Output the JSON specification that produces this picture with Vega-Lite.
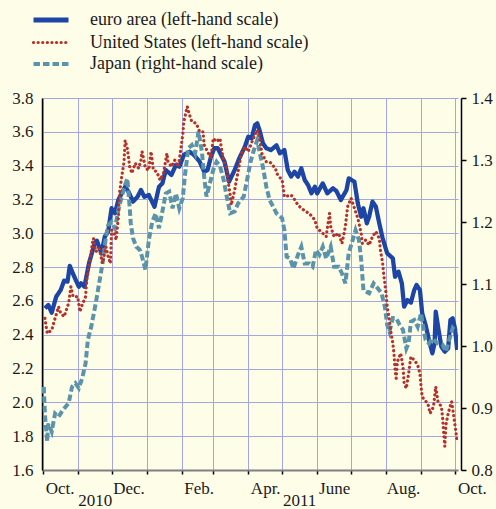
{
"$schema": "https://vega.github.io/schema/vega-lite/v6.json",
"width": 416, "height": 372,
"autosize": {"type": "none"},
"padding": {"left": 42, "top": 98, "right": 38, "bottom": 39},
"background": "#fefde8",
"datasets": {
"euro": [
{"d":"2010-10-03","v":2.556,"s":"euro area"},{"d":"2010-10-06","v":2.576,"s":"euro area"},{"d":"2010-10-09","v":2.53,"s":"euro area"},{"d":"2010-10-13","v":2.625,"s":"euro area"},{"d":"2010-10-17","v":2.665,"s":"euro area"},{"d":"2010-10-20","v":2.72,"s":"euro area"},{"d":"2010-10-23","v":2.714,"s":"euro area"},{"d":"2010-10-25","v":2.807,"s":"euro area"},{"d":"2010-10-29","v":2.743,"s":"euro area"},{"d":"2010-11-02","v":2.684,"s":"euro area"},{"d":"2010-11-04","v":2.704,"s":"euro area"},{"d":"2010-11-07","v":2.684,"s":"euro area"},{"d":"2010-11-11","v":2.822,"s":"euro area"},{"d":"2010-11-16","v":2.94,"s":"euro area"},{"d":"2010-11-18","v":2.956,"s":"euro area"},{"d":"2010-11-20","v":2.92,"s":"euro area"},{"d":"2010-11-22","v":2.88,"s":"euro area"},{"d":"2010-11-25","v":2.98,"s":"euro area"},{"d":"2010-11-28","v":3.01,"s":"euro area"},{"d":"2010-12-01","v":3.148,"s":"euro area"},{"d":"2010-12-04","v":3.118,"s":"euro area"},{"d":"2010-12-07","v":3.197,"s":"euro area"},{"d":"2010-12-10","v":3.236,"s":"euro area"},{"d":"2010-12-13","v":3.275,"s":"euro area"},{"d":"2010-12-16","v":3.246,"s":"euro area"},{"d":"2010-12-20","v":3.187,"s":"euro area"},{"d":"2010-12-24","v":3.216,"s":"euro area"},{"d":"2010-12-27","v":3.256,"s":"euro area"},{"d":"2010-12-30","v":3.216,"s":"euro area"},{"d":"2011-01-03","v":3.226,"s":"euro area"},{"d":"2011-01-08","v":3.157,"s":"euro area"},{"d":"2011-01-12","v":3.275,"s":"euro area"},{"d":"2011-01-15","v":3.295,"s":"euro area"},{"d":"2011-01-18","v":3.374,"s":"euro area"},{"d":"2011-01-23","v":3.345,"s":"euro area"},{"d":"2011-01-27","v":3.404,"s":"euro area"},{"d":"2011-01-30","v":3.394,"s":"euro area"},{"d":"2011-02-03","v":3.463,"s":"euro area"},{"d":"2011-02-08","v":3.482,"s":"euro area"},{"d":"2011-02-12","v":3.463,"s":"euro area"},{"d":"2011-02-17","v":3.423,"s":"euro area"},{"d":"2011-02-21","v":3.364,"s":"euro area"},{"d":"2011-02-24","v":3.374,"s":"euro area"},{"d":"2011-02-27","v":3.453,"s":"euro area"},{"d":"2011-03-02","v":3.503,"s":"euro area"},{"d":"2011-03-05","v":3.503,"s":"euro area"},{"d":"2011-03-08","v":3.463,"s":"euro area"},{"d":"2011-03-11","v":3.423,"s":"euro area"},{"d":"2011-03-14","v":3.335,"s":"euro area"},{"d":"2011-03-15","v":3.305,"s":"euro area"},{"d":"2011-03-20","v":3.374,"s":"euro area"},{"d":"2011-03-24","v":3.443,"s":"euro area"},{"d":"2011-03-29","v":3.512,"s":"euro area"},{"d":"2011-04-01","v":3.571,"s":"euro area"},{"d":"2011-04-04","v":3.561,"s":"euro area"},{"d":"2011-04-07","v":3.64,"s":"euro area"},{"d":"2011-04-09","v":3.65,"s":"euro area"},{"d":"2011-04-11","v":3.61,"s":"euro area"},{"d":"2011-04-14","v":3.532,"s":"euro area"},{"d":"2011-04-17","v":3.503,"s":"euro area"},{"d":"2011-04-21","v":3.492,"s":"euro area"},{"d":"2011-04-26","v":3.52,"s":"euro area"},{"d":"2011-04-29","v":3.473,"s":"euro area"},{"d":"2011-05-03","v":3.492,"s":"euro area"},{"d":"2011-05-06","v":3.374,"s":"euro area"},{"d":"2011-05-09","v":3.335,"s":"euro area"},{"d":"2011-05-12","v":3.364,"s":"euro area"},{"d":"2011-05-15","v":3.335,"s":"euro area"},{"d":"2011-05-18","v":3.384,"s":"euro area"},{"d":"2011-05-21","v":3.315,"s":"euro area"},{"d":"2011-05-24","v":3.285,"s":"euro area"},{"d":"2011-05-27","v":3.236,"s":"euro area"},{"d":"2011-05-30","v":3.275,"s":"euro area"},{"d":"2011-06-01","v":3.236,"s":"euro area"},{"d":"2011-06-06","v":3.295,"s":"euro area"},{"d":"2011-06-10","v":3.236,"s":"euro area"},{"d":"2011-06-15","v":3.266,"s":"euro area"},{"d":"2011-06-18","v":3.25,"s":"euro area"},{"d":"2011-06-22","v":3.197,"s":"euro area"},{"d":"2011-06-27","v":3.256,"s":"euro area"},{"d":"2011-06-29","v":3.325,"s":"euro area"},{"d":"2011-07-04","v":3.305,"s":"euro area"},{"d":"2011-07-07","v":3.177,"s":"euro area"},{"d":"2011-07-10","v":3.098,"s":"euro area"},{"d":"2011-07-12","v":3.148,"s":"euro area"},{"d":"2011-07-15","v":3.059,"s":"euro area"},{"d":"2011-07-17","v":3.098,"s":"euro area"},{"d":"2011-07-20","v":3.187,"s":"euro area"},{"d":"2011-07-23","v":3.157,"s":"euro area"},{"d":"2011-07-26","v":3.059,"s":"euro area"},{"d":"2011-07-29","v":2.97,"s":"euro area"},{"d":"2011-08-02","v":2.882,"s":"euro area"},{"d":"2011-08-07","v":2.852,"s":"euro area"},{"d":"2011-08-09","v":2.743,"s":"euro area"},{"d":"2011-08-12","v":2.773,"s":"euro area"},{"d":"2011-08-15","v":2.704,"s":"euro area"},{"d":"2011-08-17","v":2.566,"s":"euro area"},{"d":"2011-08-20","v":2.605,"s":"euro area"},{"d":"2011-08-23","v":2.59,"s":"euro area"},{"d":"2011-08-26","v":2.665,"s":"euro area"},{"d":"2011-08-28","v":2.694,"s":"euro area"},{"d":"2011-08-31","v":2.665,"s":"euro area"},{"d":"2011-09-02","v":2.527,"s":"euro area"},{"d":"2011-09-05","v":2.458,"s":"euro area"},{"d":"2011-09-08","v":2.369,"s":"euro area"},{"d":"2011-09-11","v":2.29,"s":"euro area"},{"d":"2011-09-13","v":2.35,"s":"euro area"},{"d":"2011-09-14","v":2.536,"s":"euro area"},{"d":"2011-09-17","v":2.408,"s":"euro area"},{"d":"2011-09-19","v":2.329,"s":"euro area"},{"d":"2011-09-22","v":2.3,"s":"euro area"},{"d":"2011-09-25","v":2.32,"s":"euro area"},{"d":"2011-09-27","v":2.487,"s":"euro area"},{"d":"2011-09-29","v":2.497,"s":"euro area"},{"d":"2011-10-01","v":2.438,"s":"euro area"},{"d":"2011-10-03","v":2.31,"s":"euro area"}
],
"us": [
{"d":"2010-10-03","v":2.497,"s":"United States"},{"d":"2010-10-05","v":2.408,"s":"United States"},{"d":"2010-10-09","v":2.428,"s":"United States"},{"d":"2010-10-12","v":2.497,"s":"United States"},{"d":"2010-10-15","v":2.566,"s":"United States"},{"d":"2010-10-17","v":2.527,"s":"United States"},{"d":"2010-10-20","v":2.507,"s":"United States"},{"d":"2010-10-24","v":2.586,"s":"United States"},{"d":"2010-10-26","v":2.684,"s":"United States"},{"d":"2010-10-28","v":2.625,"s":"United States"},{"d":"2010-11-01","v":2.625,"s":"United States"},{"d":"2010-11-03","v":2.536,"s":"United States"},{"d":"2010-11-05","v":2.576,"s":"United States"},{"d":"2010-11-08","v":2.625,"s":"United States"},{"d":"2010-11-09","v":2.724,"s":"United States"},{"d":"2010-11-12","v":2.842,"s":"United States"},{"d":"2010-11-14","v":2.94,"s":"United States"},{"d":"2010-11-15","v":2.97,"s":"United States"},{"d":"2010-11-17","v":2.891,"s":"United States"},{"d":"2010-11-20","v":2.911,"s":"United States"},{"d":"2010-11-23","v":2.822,"s":"United States"},{"d":"2010-11-26","v":2.92,"s":"United States"},{"d":"2010-11-28","v":2.861,"s":"United States"},{"d":"2010-11-30","v":2.822,"s":"United States"},{"d":"2010-12-01","v":3.02,"s":"United States"},{"d":"2010-12-04","v":2.99,"s":"United States"},{"d":"2010-12-05","v":2.96,"s":"United States"},{"d":"2010-12-07","v":3.089,"s":"United States"},{"d":"2010-12-08","v":3.236,"s":"United States"},{"d":"2010-12-10","v":3.335,"s":"United States"},{"d":"2010-12-12","v":3.42,"s":"United States"},{"d":"2010-12-13","v":3.55,"s":"United States"},{"d":"2010-12-15","v":3.5,"s":"United States"},{"d":"2010-12-16","v":3.45,"s":"United States"},{"d":"2010-12-17","v":3.394,"s":"United States"},{"d":"2010-12-19","v":3.355,"s":"United States"},{"d":"2010-12-22","v":3.414,"s":"United States"},{"d":"2010-12-25","v":3.384,"s":"United States"},{"d":"2010-12-27","v":3.433,"s":"United States"},{"d":"2010-12-28","v":3.483,"s":"United States"},{"d":"2010-12-31","v":3.384,"s":"United States"},{"d":"2011-01-03","v":3.374,"s":"United States"},{"d":"2011-01-04","v":3.433,"s":"United States"},{"d":"2011-01-05","v":3.483,"s":"United States"},{"d":"2011-01-07","v":3.374,"s":"United States"},{"d":"2011-01-10","v":3.364,"s":"United States"},{"d":"2011-01-13","v":3.315,"s":"United States"},{"d":"2011-01-16","v":3.355,"s":"United States"},{"d":"2011-01-19","v":3.473,"s":"United States"},{"d":"2011-01-20","v":3.423,"s":"United States"},{"d":"2011-01-23","v":3.394,"s":"United States"},{"d":"2011-01-26","v":3.433,"s":"United States"},{"d":"2011-01-29","v":3.394,"s":"United States"},{"d":"2011-01-30","v":3.433,"s":"United States"},{"d":"2011-02-01","v":3.532,"s":"United States"},{"d":"2011-02-02","v":3.581,"s":"United States"},{"d":"2011-02-03","v":3.66,"s":"United States"},{"d":"2011-02-06","v":3.749,"s":"United States"},{"d":"2011-02-08","v":3.7,"s":"United States"},{"d":"2011-02-10","v":3.66,"s":"United States"},{"d":"2011-02-14","v":3.65,"s":"United States"},{"d":"2011-02-17","v":3.6,"s":"United States"},{"d":"2011-02-20","v":3.6,"s":"United States"},{"d":"2011-02-21","v":3.522,"s":"United States"},{"d":"2011-02-24","v":3.483,"s":"United States"},{"d":"2011-02-27","v":3.443,"s":"United States"},{"d":"2011-03-01","v":3.561,"s":"United States"},{"d":"2011-03-04","v":3.542,"s":"United States"},{"d":"2011-03-07","v":3.561,"s":"United States"},{"d":"2011-03-08","v":3.512,"s":"United States"},{"d":"2011-03-10","v":3.433,"s":"United States"},{"d":"2011-03-13","v":3.384,"s":"United States"},{"d":"2011-03-14","v":3.315,"s":"United States"},{"d":"2011-03-16","v":3.226,"s":"United States"},{"d":"2011-03-17","v":3.167,"s":"United States"},{"d":"2011-03-20","v":3.256,"s":"United States"},{"d":"2011-03-23","v":3.364,"s":"United States"},{"d":"2011-03-26","v":3.473,"s":"United States"},{"d":"2011-03-29","v":3.512,"s":"United States"},{"d":"2011-04-01","v":3.483,"s":"United States"},{"d":"2011-04-05","v":3.552,"s":"United States"},{"d":"2011-04-09","v":3.61,"s":"United States"},{"d":"2011-04-11","v":3.571,"s":"United States"},{"d":"2011-04-13","v":3.473,"s":"United States"},{"d":"2011-04-17","v":3.423,"s":"United States"},{"d":"2011-04-20","v":3.423,"s":"United States"},{"d":"2011-04-25","v":3.384,"s":"United States"},{"d":"2011-04-27","v":3.345,"s":"United States"},{"d":"2011-05-01","v":3.315,"s":"United States"},{"d":"2011-05-02","v":3.266,"s":"United States"},{"d":"2011-05-03","v":3.216,"s":"United States"},{"d":"2011-05-09","v":3.226,"s":"United States"},{"d":"2011-05-12","v":3.2,"s":"United States"},{"d":"2011-05-15","v":3.167,"s":"United States"},{"d":"2011-05-18","v":3.148,"s":"United States"},{"d":"2011-05-22","v":3.128,"s":"United States"},{"d":"2011-05-25","v":3.118,"s":"United States"},{"d":"2011-05-30","v":3.078,"s":"United States"},{"d":"2011-06-01","v":3.03,"s":"United States"},{"d":"2011-06-06","v":3.0,"s":"United States"},{"d":"2011-06-09","v":2.98,"s":"United States"},{"d":"2011-06-12","v":3.118,"s":"United States"},{"d":"2011-06-13","v":3.04,"s":"United States"},{"d":"2011-06-16","v":2.98,"s":"United States"},{"d":"2011-06-20","v":3.0,"s":"United States"},{"d":"2011-06-23","v":2.94,"s":"United States"},{"d":"2011-06-26","v":3.04,"s":"United States"},{"d":"2011-06-28","v":3.157,"s":"United States"},{"d":"2011-07-01","v":3.207,"s":"United States"},{"d":"2011-07-04","v":3.148,"s":"United States"},{"d":"2011-07-07","v":3.089,"s":"United States"},{"d":"2011-07-10","v":3.0,"s":"United States"},{"d":"2011-07-11","v":2.94,"s":"United States"},{"d":"2011-07-14","v":2.96,"s":"United States"},{"d":"2011-07-17","v":2.93,"s":"United States"},{"d":"2011-07-20","v":2.98,"s":"United States"},{"d":"2011-07-23","v":3.01,"s":"United States"},{"d":"2011-07-26","v":2.97,"s":"United States"},{"d":"2011-07-27","v":2.9,"s":"United States"},{"d":"2011-07-29","v":2.822,"s":"United States"},{"d":"2011-07-30","v":2.753,"s":"United States"},{"d":"2011-08-01","v":2.645,"s":"United States"},{"d":"2011-08-02","v":2.566,"s":"United States"},{"d":"2011-08-04","v":2.487,"s":"United States"},{"d":"2011-08-05","v":2.428,"s":"United States"},{"d":"2011-08-07","v":2.35,"s":"United States"},{"d":"2011-08-08","v":2.29,"s":"United States"},{"d":"2011-08-09","v":2.191,"s":"United States"},{"d":"2011-08-10","v":2.142,"s":"United States"},{"d":"2011-08-11","v":2.24,"s":"United States"},{"d":"2011-08-14","v":2.29,"s":"United States"},{"d":"2011-08-16","v":2.21,"s":"United States"},{"d":"2011-08-17","v":2.113,"s":"United States"},{"d":"2011-08-19","v":2.083,"s":"United States"},{"d":"2011-08-21","v":2.171,"s":"United States"},{"d":"2011-08-23","v":2.27,"s":"United States"},{"d":"2011-08-26","v":2.25,"s":"United States"},{"d":"2011-08-29","v":2.221,"s":"United States"},{"d":"2011-08-31","v":2.171,"s":"United States"},{"d":"2011-09-01","v":2.093,"s":"United States"},{"d":"2011-09-02","v":2.033,"s":"United States"},{"d":"2011-09-04","v":2.014,"s":"United States"},{"d":"2011-09-07","v":1.994,"s":"United States"},{"d":"2011-09-09","v":1.935,"s":"United States"},{"d":"2011-09-12","v":1.974,"s":"United States"},{"d":"2011-09-14","v":2.093,"s":"United States"},{"d":"2011-09-16","v":2.004,"s":"United States"},{"d":"2011-09-19","v":1.974,"s":"United States"},{"d":"2011-09-20","v":1.915,"s":"United States"},{"d":"2011-09-21","v":1.82,"s":"United States"},{"d":"2011-09-22","v":1.74,"s":"United States"},{"d":"2011-09-23","v":1.866,"s":"United States"},{"d":"2011-09-25","v":1.935,"s":"United States"},{"d":"2011-09-28","v":2.004,"s":"United States"},{"d":"2011-09-29","v":1.964,"s":"United States"},{"d":"2011-10-01","v":1.866,"s":"United States"},{"d":"2011-10-02","v":1.817,"s":"United States"},{"d":"2011-10-03","v":1.768,"s":"United States"}
],
"japan": [
{"d":"2010-10-02","v":0.934,"s":"Japan"},{"d":"2010-10-03","v":0.89,"s":"Japan"},{"d":"2010-10-05","v":0.846,"s":"Japan"},{"d":"2010-10-06","v":0.875,"s":"Japan"},{"d":"2010-10-09","v":0.862,"s":"Japan"},{"d":"2010-10-12","v":0.891,"s":"Japan"},{"d":"2010-10-15","v":0.886,"s":"Japan"},{"d":"2010-10-19","v":0.897,"s":"Japan"},{"d":"2010-10-24","v":0.908,"s":"Japan"},{"d":"2010-10-27","v":0.934,"s":"Japan"},{"d":"2010-10-30","v":0.94,"s":"Japan"},{"d":"2010-11-02","v":0.932,"s":"Japan"},{"d":"2010-11-05","v":0.948,"s":"Japan"},{"d":"2010-11-08","v":0.972,"s":"Japan"},{"d":"2010-11-10","v":1.01,"s":"Japan"},{"d":"2010-11-13","v":1.031,"s":"Japan"},{"d":"2010-11-17","v":1.069,"s":"Japan"},{"d":"2010-11-20","v":1.101,"s":"Japan"},{"d":"2010-11-23","v":1.133,"s":"Japan"},{"d":"2010-11-26","v":1.176,"s":"Japan"},{"d":"2010-11-28","v":1.195,"s":"Japan"},{"d":"2010-12-01","v":1.2,"s":"Japan"},{"d":"2010-12-04","v":1.19,"s":"Japan"},{"d":"2010-12-07","v":1.219,"s":"Japan"},{"d":"2010-12-10","v":1.241,"s":"Japan"},{"d":"2010-12-13","v":1.26,"s":"Japan"},{"d":"2010-12-15","v":1.27,"s":"Japan"},{"d":"2010-12-17","v":1.225,"s":"Japan"},{"d":"2010-12-18","v":1.198,"s":"Japan"},{"d":"2010-12-20","v":1.174,"s":"Japan"},{"d":"2010-12-23","v":1.16,"s":"Japan"},{"d":"2010-12-26","v":1.155,"s":"Japan"},{"d":"2010-12-28","v":1.144,"s":"Japan"},{"d":"2010-12-31","v":1.123,"s":"Japan"},{"d":"2011-01-01","v":1.139,"s":"Japan"},{"d":"2011-01-03","v":1.171,"s":"Japan"},{"d":"2011-01-06","v":1.2,"s":"Japan"},{"d":"2011-01-09","v":1.214,"s":"Japan"},{"d":"2011-01-12","v":1.19,"s":"Japan"},{"d":"2011-01-15","v":1.217,"s":"Japan"},{"d":"2011-01-18","v":1.246,"s":"Japan"},{"d":"2011-01-21","v":1.249,"s":"Japan"},{"d":"2011-01-24","v":1.222,"s":"Japan"},{"d":"2011-01-27","v":1.246,"s":"Japan"},{"d":"2011-01-30","v":1.222,"s":"Japan"},{"d":"2011-02-02","v":1.238,"s":"Japan"},{"d":"2011-02-04","v":1.276,"s":"Japan"},{"d":"2011-02-07","v":1.319,"s":"Japan"},{"d":"2011-02-10","v":1.324,"s":"Japan"},{"d":"2011-02-13","v":1.311,"s":"Japan"},{"d":"2011-02-16","v":1.346,"s":"Japan"},{"d":"2011-02-19","v":1.313,"s":"Japan"},{"d":"2011-02-21","v":1.273,"s":"Japan"},{"d":"2011-02-23","v":1.241,"s":"Japan"},{"d":"2011-02-26","v":1.262,"s":"Japan"},{"d":"2011-03-01","v":1.284,"s":"Japan"},{"d":"2011-03-04","v":1.297,"s":"Japan"},{"d":"2011-03-07","v":1.29,"s":"Japan"},{"d":"2011-03-10","v":1.27,"s":"Japan"},{"d":"2011-03-13","v":1.241,"s":"Japan"},{"d":"2011-03-16","v":1.214,"s":"Japan"},{"d":"2011-03-20","v":1.217,"s":"Japan"},{"d":"2011-03-23","v":1.23,"s":"Japan"},{"d":"2011-03-28","v":1.241,"s":"Japan"},{"d":"2011-03-31","v":1.268,"s":"Japan"},{"d":"2011-04-03","v":1.297,"s":"Japan"},{"d":"2011-04-06","v":1.316,"s":"Japan"},{"d":"2011-04-09","v":1.332,"s":"Japan"},{"d":"2011-04-11","v":1.313,"s":"Japan"},{"d":"2011-04-14","v":1.289,"s":"Japan"},{"d":"2011-04-17","v":1.257,"s":"Japan"},{"d":"2011-04-20","v":1.235,"s":"Japan"},{"d":"2011-04-23","v":1.225,"s":"Japan"},{"d":"2011-04-26","v":1.214,"s":"Japan"},{"d":"2011-05-01","v":1.206,"s":"Japan"},{"d":"2011-05-03","v":1.187,"s":"Japan"},{"d":"2011-05-05","v":1.144,"s":"Japan"},{"d":"2011-05-08","v":1.141,"s":"Japan"},{"d":"2011-05-11","v":1.125,"s":"Japan"},{"d":"2011-05-15","v":1.147,"s":"Japan"},{"d":"2011-05-18","v":1.16,"s":"Japan"},{"d":"2011-05-21","v":1.133,"s":"Japan"},{"d":"2011-05-25","v":1.133,"s":"Japan"},{"d":"2011-05-28","v":1.128,"s":"Japan"},{"d":"2011-05-31","v":1.155,"s":"Japan"},{"d":"2011-06-03","v":1.147,"s":"Japan"},{"d":"2011-06-06","v":1.16,"s":"Japan"},{"d":"2011-06-09","v":1.141,"s":"Japan"},{"d":"2011-06-13","v":1.16,"s":"Japan"},{"d":"2011-06-16","v":1.128,"s":"Japan"},{"d":"2011-06-20","v":1.128,"s":"Japan"},{"d":"2011-06-23","v":1.117,"s":"Japan"},{"d":"2011-06-26","v":1.101,"s":"Japan"},{"d":"2011-06-29","v":1.15,"s":"Japan"},{"d":"2011-07-02","v":1.168,"s":"Japan"},{"d":"2011-07-05","v":1.187,"s":"Japan"},{"d":"2011-07-08","v":1.171,"s":"Japan"},{"d":"2011-07-10","v":1.139,"s":"Japan"},{"d":"2011-07-12","v":1.09,"s":"Japan"},{"d":"2011-07-17","v":1.085,"s":"Japan"},{"d":"2011-07-21","v":1.101,"s":"Japan"},{"d":"2011-07-26","v":1.09,"s":"Japan"},{"d":"2011-07-28","v":1.085,"s":"Japan"},{"d":"2011-07-31","v":1.063,"s":"Japan"},{"d":"2011-08-02","v":1.034,"s":"Japan"},{"d":"2011-08-04","v":1.023,"s":"Japan"},{"d":"2011-08-07","v":1.045,"s":"Japan"},{"d":"2011-08-10","v":1.045,"s":"Japan"},{"d":"2011-08-13","v":1.034,"s":"Japan"},{"d":"2011-08-16","v":1.026,"s":"Japan"},{"d":"2011-08-19","v":0.996,"s":"Japan"},{"d":"2011-08-21","v":1.005,"s":"Japan"},{"d":"2011-08-23","v":1.039,"s":"Japan"},{"d":"2011-08-26","v":1.042,"s":"Japan"},{"d":"2011-08-29","v":1.031,"s":"Japan"},{"d":"2011-09-01","v":1.053,"s":"Japan"},{"d":"2011-09-02","v":1.04,"s":"Japan"},{"d":"2011-09-05","v":1.01,"s":"Japan"},{"d":"2011-09-08","v":1.004,"s":"Japan"},{"d":"2011-09-11","v":1.012,"s":"Japan"},{"d":"2011-09-16","v":1.004,"s":"Japan"},{"d":"2011-09-20","v":1.002,"s":"Japan"},{"d":"2011-09-23","v":0.991,"s":"Japan"},{"d":"2011-09-26","v":1.01,"s":"Japan"},{"d":"2011-09-29","v":1.029,"s":"Japan"},{"d":"2011-10-02","v":1.023,"s":"Japan"}
]
},
"encoding": {
"x": {"field": "d", "type": "temporal",
 "scale": {"type": "utc", "domain": [{"year": 2010, "month": 9, "date": 30, "hours": 10, "utc": true}, {"year": 2011, "month": 10, "date": 3, "hours": 17, "utc": true}]},
 "axis": {"title": null,
  "values": [{"year":2010,"month":10,"date":1,"utc":true},{"year":2010,"month":11,"date":1,"utc":true},{"year":2010,"month":12,"date":1,"utc":true},{"year":2011,"month":1,"date":1,"utc":true},{"year":2011,"month":2,"date":1,"utc":true},{"year":2011,"month":3,"date":1,"utc":true},{"year":2011,"month":4,"date":1,"utc":true},{"year":2011,"month":5,"date":1,"utc":true},{"year":2011,"month":6,"date":1,"utc":true},{"year":2011,"month":7,"date":1,"utc":true},{"year":2011,"month":8,"date":1,"utc":true},{"year":2011,"month":9,"date":1,"utc":true},{"year":2011,"month":10,"date":1,"utc":true}],
  "labelExpr": "utcmonth(datum.value) == 9 ? 'Oct.' : utcmonth(datum.value) == 11 ? 'Dec.' : utcmonth(datum.value) == 1 ? 'Feb.' : utcmonth(datum.value) == 3 ? 'Apr.' : utcmonth(datum.value) == 5 ? 'June' : utcmonth(datum.value) == 7 ? 'Aug.' : utcmonth(datum.value) == 10 ? ['', '2010'] : utcmonth(datum.value) == 4 ? ['', '2011'] : ''",
  "labelOffset": 17, "labelOverlap": false, "labelFlush": false, "labelPadding": 6, "labelLineHeight": 12,
  "labelFontSize": 17, "labelFont": "Liberation Serif", "labelColor": "#1a1a1a",
  "tickSize": 4, "tickColor": "#000000", "tickWidth": 1.5,
  "domainColor": "#808080", "domainWidth": 2,
  "grid": true, "gridColor": "#a3a7de", "gridWidth": 1}}
},
"layer": [
{"data": {"name": "euro"},
 "mark": {"type": "line", "strokeWidth": 4.3, "strokeJoin": "round", "clip": true},
 "encoding": {
  "y": {"field": "v", "type": "quantitative", "scale": {"domain": [1.6, 3.8], "nice": false, "zero": false},
   "axis": {"orient": "left", "title": null, "values": [1.6,1.8,2.0,2.2,2.4,2.6,2.8,3.0,3.2,3.4,3.6,3.8], "format": ".1f",
    "grid": true, "gridColor": "#a3a7de", "gridWidth": 1, "ticks": false, "labelPadding": 9,
    "labelFontSize": 17, "labelFont": "Liberation Serif", "labelColor": "#1a1a1a",
    "domainColor": "#000000", "domainWidth": 1.5}},
  "color": {"field": "s", "type": "nominal", "scale": {"domain": ["euro area", "United States", "Japan"], "range": ["#1c45a5", "#b3322b", "#5b94aa"]},
   "legend": {"title": null, "orient": "none", "legendX": 0, "legendY": -87, "padding": 0,
    "symbolType": "stroke", "symbolSize": 1225, "symbolStrokeWidth": 4, "labelOffset": 30, "rowPadding": 3.5, "labelLimit": 0,
    "labelFontSize": 18, "labelFont": "Liberation Serif", "labelColor": "#1a1a1a",
    "labelExpr": "datum.label == 'Japan' ? 'Japan (right-hand scale)' : datum.label + ' (left-hand scale)'",
    "encode": {"symbols": {"update": {"strokeWidth": {"signal": "datum.value == 'euro area' ? 5 : datum.value == 'United States' ? 3.2 : 4"}, "strokeCap": {"signal": "datum.value == 'United States' ? 'round' : 'butt'"}}}}}},
  "strokeDash": {"field": "s", "type": "nominal", "scale": {"domain": ["euro area", "United States", "Japan"], "range": [[1, 0], [0.1, 4.5], [6.5, 3]]}, "legend": null}
 }},
{"data": {"name": "japan"},
 "mark": {"type": "line", "strokeWidth": 4, "strokeCap": "butt", "clip": true},
 "encoding": {
  "y": {"field": "v", "type": "quantitative", "scale": {"domain": [0.8, 1.4], "nice": false, "zero": false},
   "axis": {"orient": "right", "title": null, "values": [0.8,0.9,1.0,1.1,1.2,1.3,1.4], "format": ".1f",
    "grid": false, "ticks": true, "tickSize": 5, "tickColor": "#000000", "tickWidth": 1.5, "offset": 3, "labelPadding": 5,
    "labelFontSize": 17, "labelFont": "Liberation Serif", "labelColor": "#1a1a1a",
    "domainColor": "#000000", "domainWidth": 1.5}},
  "color": {"field": "s", "type": "nominal", "scale": {"domain": ["euro area", "United States", "Japan"], "range": ["#1c45a5", "#b3322b", "#5b94aa"]}, "legend": null},
  "strokeDash": {"field": "s", "type": "nominal", "scale": {"domain": ["euro area", "United States", "Japan"], "range": [[1, 0], [0.1, 4.5], [6.5, 3]]}, "legend": null}
 }},
{"data": {"name": "us"},
 "mark": {"type": "line", "strokeWidth": 3.2, "strokeCap": "round", "clip": true},
 "encoding": {
  "y": {"field": "v", "type": "quantitative", "scale": {"domain": [1.6, 3.8], "nice": false, "zero": false}, "axis": null},
  "color": {"field": "s", "type": "nominal", "scale": {"domain": ["euro area", "United States", "Japan"], "range": ["#1c45a5", "#b3322b", "#5b94aa"]}, "legend": null},
  "strokeDash": {"field": "s", "type": "nominal", "scale": {"domain": ["euro area", "United States", "Japan"], "range": [[1, 0], [0.1, 4.5], [6.5, 3]]}, "legend": null}
 }}
],
"resolve": {"scale": {"y": "independent"}},
"config": {"font": "Liberation Serif", "view": {"stroke": null, "fill": "#fefde8"}}
}
